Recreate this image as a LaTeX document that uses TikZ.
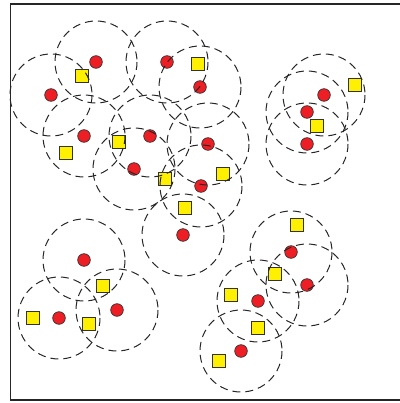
\documentclass[tikz,border=0pt]{standalone}
\definecolor{dotred}{RGB}{237,30,36}
\definecolor{boxyellow}{RGB}{255,240,0}
\tikzset{
  reachring/.style={dash pattern=on 8pt off 5pt, line width=1pt, black!85},
  sensor/.style={fill=dotred, draw=black!80, line width=0.7pt},
  anchorbox/.style={fill=boxyellow, draw=black!80, line width=0.9pt},
}
\begin{document}
\begin{tikzpicture}[x=1pt,y=-1pt]
  \useasboundingbox (0,0) rectangle (399,403);
  \draw[line width=1.3pt, black!85] (412,4) -- (10.5,4) -- (10.5,400) -- (412,400);

  % anchors
  \foreach \x/\y in {82/76, 198/64, 355/85, 66/153, 119/142, 165/179, 223/174, 185/208,
                     317/126, 103/286, 33/318, 89/324, 297/225, 275/274, 231/295, 258/328, 219/361}{
    \draw[anchorbox, shift={(\x,\y)}] (-6.5,-6.5) rectangle (6.5,6.5);
  }

  % sensors
  \foreach \x/\y in {96/62, 51/95, 84/136, 167/62, 200/87, 150/136, 134/169, 208/144, 201/186, 183/235,
                     324/95, 307/112, 307/144, 84/260, 59/318, 117/310, 291/252, 307/285, 258/301, 241/351}{
    \draw[sensor] (\x,\y) circle [radius=6.3];
  }

  % ranges
  \foreach \x/\y in {96/62, 51/95, 84/136, 167/62, 200/87, 150/136, 134/169, 208/144, 201/186, 183/235,
                     324/95, 307/112, 307/144, 84/260, 59/318, 117/310, 291/252, 307/285, 258/301, 241/351}{
    \draw[reachring] (\x,\y) circle [radius=41];
  }
\end{tikzpicture}
\end{document}
